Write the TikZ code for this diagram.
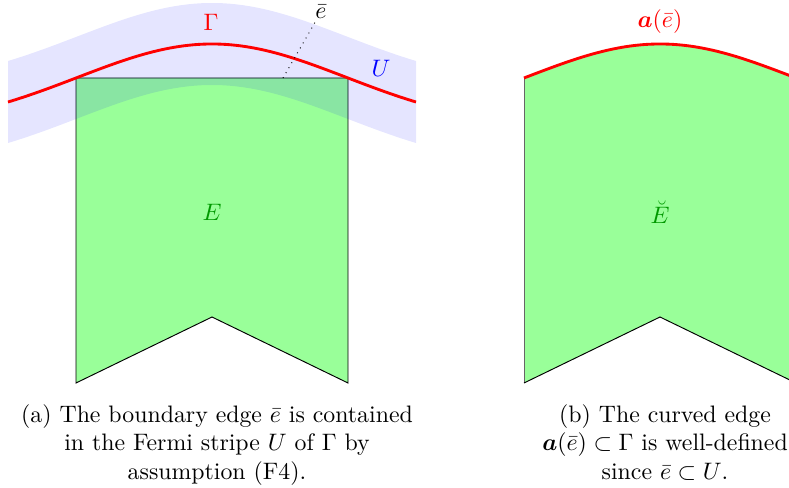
\documentclass[tikz,border=0pt]{standalone}
\usepackage{amsmath,amssymb,bm}
\usepackage{xcolor}
\usepackage{tikz}
\usetikzlibrary{calc}

% height of the curve Gamma over the offset #1 from its top
\newcommand{\gy}[1]{128.8-84.8*exp(-((#1)/190)*((#1)/190))}

\begin{document}
\begin{tikzpicture}[x=0.42pt, y=-0.42pt,
    gammaline/.style={red, very thick},
    fermistripe/.style={blue, fill opacity=0.1},
    elemfill/.style={green!40},
    elemedge/.style={black, thin},
    elemlabel/.style={text=green!60!black}]
    \useasboundingbox (0,0) rectangle (789,488);
    \clip (0,0) rectangle (789,488);
    % (a): element corners, clockwise from top left
    \coordinate (a1) at (76,78);
    \coordinate (a2) at (348,78);
    \coordinate (a3) at (348,383);
    \coordinate (a4) at (212,317);
    \coordinate (a5) at (76,383);
    % Fill
    \fill[elemfill] (a1)--(a2)--(a3)--(a4)--(a5)--cycle;
    \draw[elemedge] (a1)--(a2)--(a3)--(a4)--(a5)--cycle;
    % Fermi stripe U round Gamma
    \fill[fermistripe] plot[domain=8:416, samples=60] (\x,{\gy{\x-212}-41})
      -- plot[domain=416:8, samples=60] (\x,{\gy{\x-212}+41}) -- cycle;
    % Gamma
    \draw[gammaline] plot[domain=8:416, samples=80] (\x,{\gy{\x-212}});
    % Labels
    \node[text=red] (gam) at (211,22) {$\Gamma$};
    \node[text=blue] (ulab) at (381,68) {$U$};
    \node[inner sep=1pt] (ebar) at (321,12) {$\bar e$};
    \coordinate (eb) at (283,78);
    \draw[dotted] (eb) -- (ebar);
    \node[elemlabel] (elab) at (212,212) {$E$};

    % (b): curved element
    \coordinate (b1) at (524,78);
    \coordinate (b3) at (796,383);
    \coordinate (b4) at (660,317);
    \coordinate (b5) at (524,383);
    \fill[elemfill] plot[domain=524:796, samples=60] (\x,{\gy{\x-660}})
      -- (b3) -- (b4) -- (b5) -- cycle;
    \draw[black!60] (b5) -- (b1);
    \draw[elemedge] (b3) -- (b4) -- (b5);
    \draw[gammaline] plot[domain=524:796, samples=60] (\x,{\gy{\x-660}});
    \node[text=red] (alab) at (660,22) {$\bm{a}(\bar e)$};
    \node[elemlabel] (eblab) at (660,212) {$\breve E$};

    % Captions
    \node[align=center, anchor=north] (capa) at (217,396)
      {(a) The boundary edge $\bar e$ is contained\\
       in the Fermi stripe $U$ of $\Gamma$ by\\
       assumption (F4).};
    \node[align=center, anchor=north] (capb) at (665,396)
      {(b) The curved edge\\
       $\bm{a}(\bar e)\subset\Gamma$ is well-defined\\
       since $\bar e\subset U$.};
\end{tikzpicture}
\end{document}
